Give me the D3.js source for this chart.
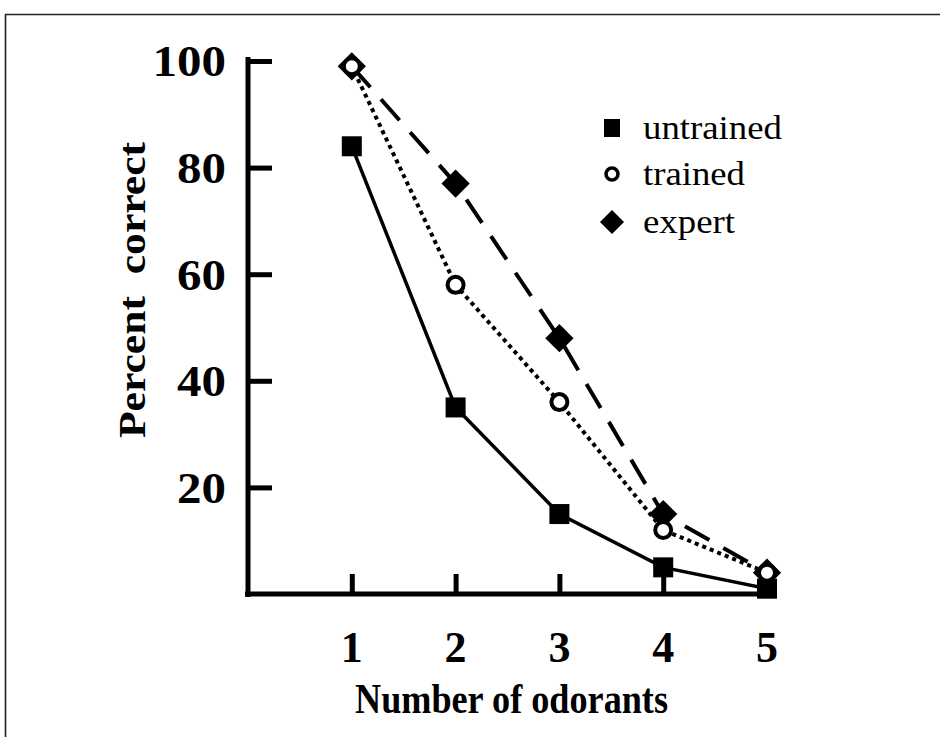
<!DOCTYPE html>
<html><head><meta charset="utf-8">
<script src="https://cdn.jsdelivr.net/npm/d3@7"></script>
<style>body{margin:0;background:#fff}svg{display:block}</style>
</head><body>
<script>
const odorants = [1, 2, 3, 4, 5];
const untrained = [84, 35, 15, 5, 1];
const trained = [99, 58, 36, 12, 4];
const expert = [99, 77, 48, 15, 4];
const yTicks = [20, 40, 60, 80, 100];
const seriesNames = ["untrained", "trained", "expert"];

const W = 940, H = 737;
const svg = d3.select("body").append("svg").attr("width", W).attr("height", H);
const font = "'Liberation Serif','Times New Roman',serif";

// frame
svg.append("path").attr("d", `M5.5,${H}V14.5H${W}`).attr("fill","none").attr("stroke","#222").attr("stroke-width",1.6);

const x = d3.scaleLinear().domain([0, 5]).range([248, 767]);
const y = d3.scaleLinear().domain([0, 100]).range([594, 61]);

// axes lines
svg.append("line").attr("x1",248).attr("x2",248).attr("y1",y(100)-4).attr("y2",y(0)+3).attr("stroke","#000").attr("stroke-width",5);
svg.append("line").attr("x1",245).attr("x2",x(5)+9).attr("y1",y(0)).attr("y2",y(0)).attr("stroke","#000").attr("stroke-width",5);

// y ticks via d3 axis
const yAxis = svg.append("g").attr("transform","translate(248,0)")
  .call(d3.axisRight(y).tickValues(yTicks).tickSize(24).tickFormat(""));
yAxis.select(".domain").remove();
yAxis.selectAll("line").attr("stroke","#000").attr("stroke-width",5);
svg.selectAll(".ylab").data(yTicks).enter().append("text")
  .attr("x", 226).attr("y", d => y(d)).attr("dy","0.35em").attr("text-anchor","end")
  .attr("font-family", font).attr("font-weight","bold").attr("font-size",44)
  .attr("textLength", d => String(d).length * 24.5).attr("lengthAdjust","spacingAndGlyphs").text(d=>d);

const xAxis = svg.append("g").attr("transform",`translate(0,${y(0)})`)
  .call(d3.axisTop(x).tickValues(odorants).tickSize(20).tickFormat(""));
xAxis.select(".domain").remove();
xAxis.selectAll("line").attr("stroke","#000").attr("stroke-width",5);
svg.selectAll(".xlab").data(odorants).enter().append("text")
  .attr("x", d => x(d)).attr("y", 662).attr("text-anchor","middle")
  .attr("font-family", font).attr("font-weight","bold").attr("font-size",44).text(d=>d);

svg.append("text").attr("x",355).attr("y",713)
  .attr("font-family", font).attr("font-weight","bold").attr("font-size",42)
  .attr("textLength", 313).attr("lengthAdjust","spacingAndGlyphs").text("Number of odorants");
svg.append("text").attr("transform","translate(145,438) rotate(-90)")
  .attr("font-family", font).attr("font-weight","bold").attr("font-size",38)
  .attr("textLength", 296).attr("lengthAdjust","spacingAndGlyphs").attr("xml:space","preserve").text("Percent  correct");

const line = d3.line().x((d,i)=>x(odorants[i])).y(d=>y(d));
svg.append("path").datum(untrained).attr("d", line).attr("fill","none").attr("stroke","#000").attr("stroke-width",3.5);
svg.append("path").datum(trained).attr("d", line).attr("fill","none").attr("stroke","#000").attr("stroke-width",4)
  .attr("stroke-dasharray","0.1 8").attr("stroke-linecap","square");
svg.append("path").datum(expert).attr("d", line).attr("fill","none").attr("stroke","#000").attr("stroke-width",4)
  .attr("stroke-dasharray","28 16");

// markers
svg.selectAll(".sq").data(untrained).enter().append("rect")
  .attr("x",(d,i)=>x(odorants[i])-10).attr("y",d=>y(d)-10).attr("width",20).attr("height",20).attr("fill","#000");
const dia = d3.symbol().type(d3.symbolSquare).size(20*20);
svg.selectAll(".di").data(expert).enter().append("path")
  .attr("d", dia).attr("transform",(d,i)=>`translate(${x(odorants[i])},${y(d)}) rotate(45)`).attr("fill","#000");
svg.selectAll(".ci").data(trained).enter().append("circle")
  .attr("cx",(d,i)=>x(odorants[i])).attr("cy",d=>y(d)).attr("r",8)
  .attr("fill","#fff").attr("stroke","#000").attr("stroke-width",4);

// legend
const lg = svg.append("g");
const ly = [128, 174, 222];
const lw = [139, 102, 92];
lg.append("rect").attr("x",604).attr("y",ly[0]-9).attr("width",16).attr("height",18).attr("fill","#000");
lg.append("circle").attr("cx",612).attr("cy",ly[1]).attr("r",6).attr("fill","#fff").attr("stroke","#000").attr("stroke-width",3.5);
lg.append("path").attr("d", d3.symbol().type(d3.symbolSquare).size(17*17)).attr("transform",`translate(612,${ly[2]}) rotate(45)`).attr("fill","#000");
lg.selectAll("text").data(seriesNames).enter().append("text")
  .attr("x",643).attr("y",(d,i)=>ly[i]).attr("dy","0.32em")
  .attr("font-family", font).attr("font-size",34)
  .attr("textLength",(d,i)=>lw[i]).attr("lengthAdjust","spacingAndGlyphs").text(d=>d);
</script>
</body></html>
